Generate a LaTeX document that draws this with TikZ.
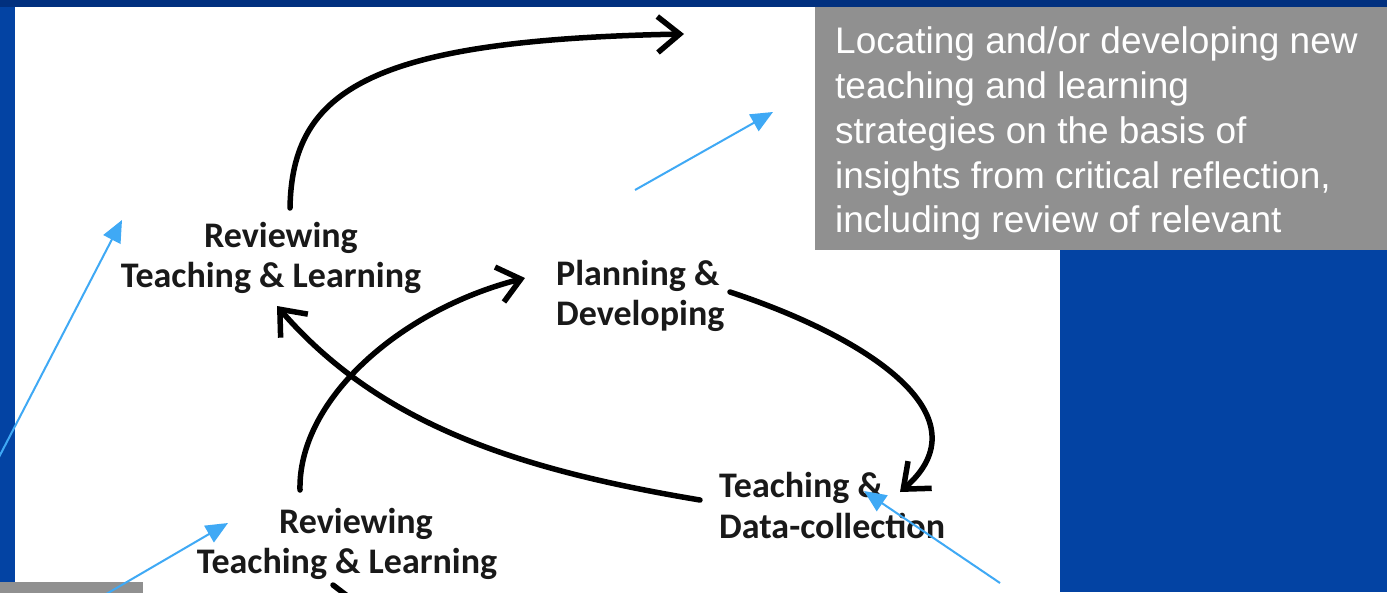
\documentclass[tikz,border=0pt]{standalone}
\usepackage{fontspec}
\newfontfamily\labfont{Carlito}
\newfontfamily\boxfont{Liberation Sans}
\usetikzlibrary{arrows.meta}
\definecolor{bgblue}{HTML}{0343A3}
\definecolor{topblue}{HTML}{01307F}
\definecolor{boxgray}{HTML}{909090}
\definecolor{callout}{HTML}{3FA9F5}
\tikzset{
  lab/.style={font=\labfont\bfseries\fontsize{36}{40}\selectfont, inner sep=0pt, text=black!90},
  boxtxt/.style={font=\boxfont\fontsize{37}{45}\selectfont, text=white, inner sep=0pt, anchor=base west},
  cyc/.style={draw=black, line width=5.5pt, line cap=round, line join=round, -{Straight Barb[length=22pt,width=36pt]}},
  pointer/.style={draw=callout, line width=2pt, -{Triangle[length=22pt,width=19pt]}}
}
\begin{document}
\begin{tikzpicture}[x=1pt,y=-1pt]
\useasboundingbox (0,0) rectangle (1387,592);
\clip (0,0) rectangle (1387,592);
% background
\fill[bgblue] (0,0) rectangle (1387,592);
\fill[topblue] (0,0) rectangle (1387,7);
\fill[white] (15,7) rectangle (1060,592);
% labels
\node[lab, anchor=base] (rev1a) at (281,247) {Reviewing};
\node[lab, anchor=base] (rev1b) at (271,287) {Teaching \& Learning};
\node[lab, anchor=base west] (plan1) at (556,285) {Planning \&};
\node[lab, anchor=base west] (plan2) at (556,325) {Developing};
\node[lab, anchor=base west] (teach1) at (719,497) {Teaching \&};
\node[lab, anchor=base west] (teach2) at (719,538) {Data-collection};
\node[lab, anchor=base] (rev2a) at (356,533) {Reviewing};
\node[lab, anchor=base] (rev2b) at (347,573) {Teaching \& Learning};
% cycle connectors
\coordinate (a0) at (290,208);
\coordinate (a1) at (684,34);
\draw[cyc] (a0) .. controls (292,90) and (370,40) .. (a1);
\coordinate (b0) at (300,490);
\coordinate (b1) at (525,278);
\draw[cyc] (b0) .. controls (298,400) and (400,310) .. (b1);
\coordinate (c0) at (700,500);
\coordinate (c1) at (277,306);
\draw[cyc] (c0) .. controls (520,470) and (380,425) .. (c1);
\coordinate (d0) at (730,292);
\coordinate (d1) at (900,492);
\draw[cyc] (d0) .. controls (875,340) and (985,418) .. (d1);
\coordinate (e0) at (333,585);
\coordinate (e1) at (350,598);
\draw[line width=5.5pt, line cap=round] (e0) -- (e1);
% callout box
\node[fill=boxgray, inner sep=0pt, minimum width=572pt, minimum height=243pt, anchor=north west] (callbox) at (815,7) {};
\node[boxtxt] (t1) at (835,53) {Locating and/or developing new};
\node[boxtxt] (t2) at (835,98) {teaching and learning};
\node[boxtxt] (t3) at (835,143) {strategies on the basis of};
\node[boxtxt] (t4) at (835,188) {insights from critical reflection,};
\node[boxtxt] (t5) at (835,232) {including review of relevant};
\node[boxtxt] (t6) at (835,277) {literature};
\node[fill=boxgray, inner sep=0pt, minimum width=143pt, minimum height=12pt, anchor=north west] (smallbox) at (0,582) {};
% pointers
\coordinate (p1s) at (-2,459);
\coordinate (p1e) at (122,220);
\draw[pointer] (p1s) -- (p1e);
\coordinate (p2s) at (96,600);
\coordinate (p2e) at (228,523);
\draw[pointer] (p2s) -- (p2e);
\coordinate (p3s) at (1000,583);
\coordinate (p3e) at (864,491);
\draw[pointer] (p3s) -- (p3e);
\coordinate (p4s) at (635,190);
\coordinate (p4e) at (773,112);
\draw[pointer] (p4s) -- (p4e);
\end{tikzpicture}
\end{document}
